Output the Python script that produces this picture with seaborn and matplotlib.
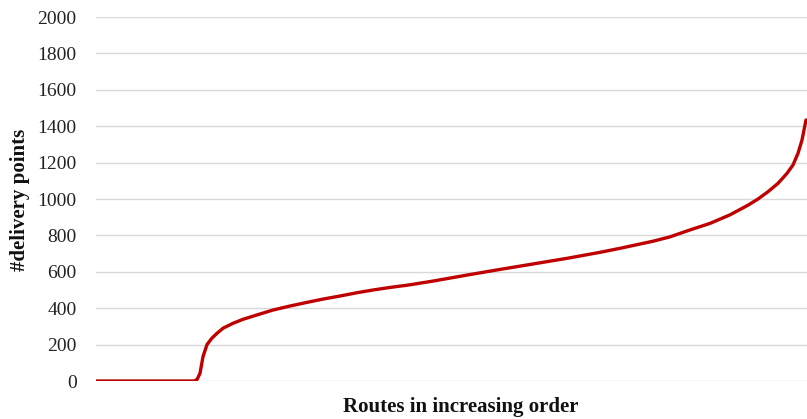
import matplotlib
matplotlib.use("Agg")
import matplotlib.pyplot as plt
import seaborn as sns
import pandas as pd

# Route rank (sorted order) and number of delivery points
route_rank = [0, 98, 101, 104, 107, 111, 116, 121, 127, 137, 147, 161, 177, 194,
              211, 227, 244, 261, 277, 294, 312, 337, 371, 404, 437, 471, 504,
              524, 557, 574, 594, 614, 634, 652, 662, 672, 682, 691, 697, 702, 706, 710]
delivery_points = [0, 0, 8, 42, 134, 200, 236, 262, 290, 317, 339, 363, 390, 412,
                   432, 450, 467, 485, 500, 514, 527, 549, 582, 613, 643, 674, 707,
                   729, 768, 792, 830, 866, 913, 966, 1000, 1040, 1086, 1141, 1187,
                   1251, 1324, 1434]

y_ticks = [0, 200, 400, 600, 800, 1000, 1200, 1400, 1600, 1800, 2000]
x_label = "Routes in increasing order"
y_label = "#delivery points"

df = pd.DataFrame({"rank": route_rank, "points": delivery_points})

sns.set_style("white")
plt.rcParams["font.family"] = ["Liberation Serif", "DejaVu Serif"]

W, H = 807, 419
fig = plt.figure(figsize=(W / 100, H / 100), dpi=100)
ax = fig.add_axes([96 / W, 1 - 381 / H, 711 / W, 364 / H])

sns.lineplot(data=df, x="rank", y="points", ax=ax, color="#C00000",
             linewidth=2.4, zorder=3)

ax.set_xlim(0, 711)
ax.set_ylim(0, 2000)
ax.set_yticks(y_ticks)
ax.set_yticklabels([str(t) for t in y_ticks])
ax.set_xticks([])
ax.yaxis.grid(True, color="#D9D9D9", linewidth=1.0)
ax.set_axisbelow(True)
for s in ax.spines.values():
    s.set_visible(False)
ax.tick_params(axis="y", length=0, pad=14, labelsize=14, labelcolor="#222222")

ax.set_xlabel(x_label, fontsize=15, fontweight="bold", color="#111111", va="center")
ax.set_ylabel(y_label, fontsize=15, fontweight="bold", color="#111111", va="center")
ax.xaxis.set_label_coords((461 - 96) / 711, (381 - 407) / 364)
ax.yaxis.set_label_coords((20 - 96) / 711, (381 - 200) / 364)

fig.savefig("out.png", dpi=100)
